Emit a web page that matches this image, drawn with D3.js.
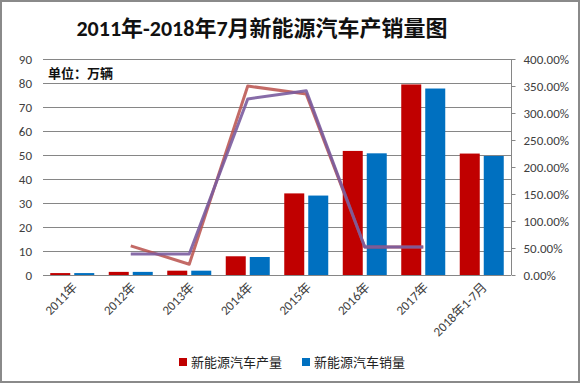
<!DOCTYPE html>
<html>
<head>
<meta charset="utf-8">
<script src="https://cdn.jsdelivr.net/npm/d3@7/dist/d3.min.js"></script>
<style>
    body { margin: 0; background: #fff; }
    text { font-family: Calibri, "Liberation Sans", "Noto Sans CJK SC", sans-serif; }
</style>
</head>
<body>
<div id="chart"></div>
<script>
(function () {
    'use strict';

    // chart data
    var years = ["2011年", "2012年", "2013年", "2014年", "2015年", "2016年", "2017年", "2018年1-7月"];
    var production = [0.8, 1.3, 1.8, 7.8, 34.0, 51.7, 79.4, 50.6];
    var sales = [0.8, 1.3, 1.8, 7.5, 33.1, 50.7, 77.7, 49.6];
    var productionGrowth = [null, 54, 20, 350, 335, 52, 52, null];
    var salesGrowth = [null, 39, 39, 326, 341, 52, 52, null];
    var leftTicks = [0, 10, 20, 30, 40, 50, 60, 70, 80, 90];
    var rightTicks = [0, 50, 100, 150, 200, 250, 300, 350, 400];

    var width = 581,
        height = 384,
        margin = {top: 59, right: 70, bottom: 109, left: 43},
        innerW = width - margin.left - margin.right,
        innerH = height - margin.top - margin.bottom,
        redColor = "#c00000",
        blueColor = "#0070c0",
        gridColor = "#868686",
        labelColor = "#404040";

    var svg = d3.select("#chart").append("svg")
        .attr("width", width)
        .attr("height", height);

    // outer frame
    svg.append("rect")
        .attr("x", 1).attr("y", 1)
        .attr("width", width - 3).attr("height", height - 3)
        .attr("fill", "#fff")
        .attr("stroke", "#8a8a8a")
        .attr("stroke-width", 2);

    svg.append("text")
        .attr("x", 262).attr("y", 36)
        .attr("text-anchor", "middle")
        .attr("font-size", 22)
        .attr("font-weight", "bold")
        .attr("fill", "#111")
        .text("2011年-2018年7月新能源汽车产销量图");

    var g = svg.append("g")
        .attr("transform", "translate(" + margin.left + "," + margin.top + ")");

    var x = d3.scaleBand().domain(years).range([0, innerW]);
    var yLeft = d3.scaleLinear().domain([0, 90]).range([innerH, 0]);
    var yRight = d3.scaleLinear().domain([0, 400]).range([innerH, 0]);

    //gridlines
    g.append("g").selectAll("line")
        .data(leftTicks)
        .enter()
        .append("line")
        .attr("x1", 0).attr("x2", innerW)
        .attr("y1", function (d) { return Math.round(yLeft(d)) + 0.5; })
        .attr("y2", function (d) { return Math.round(yLeft(d)) + 0.5; })
        .attr("stroke", gridColor)
        .attr("stroke-width", 1);

    //left axis labels
    g.append("g").selectAll("text")
        .data(leftTicks)
        .enter()
        .append("text")
        .attr("x", -11)
        .attr("y", function (d) { return yLeft(d) + 4.5; })
        .attr("text-anchor", "end")
        .attr("font-size", 13)
        .attr("fill", labelColor)
        .text(function (d) { return d; });

    //right axis
    var rightAxis = d3.axisRight(yRight)
        .tickValues(rightTicks)
        .tickSize(4)
        .tickPadding(8)
        .tickFormat(function (d) { return d3.format(".2f")(d) + "%"; });
    var ra = g.append("g")
        .attr("transform", "translate(" + (innerW + 0.5) + ",0)")
        .call(rightAxis);
    ra.select(".domain").attr("stroke", gridColor).attr("d", "M0,0V" + innerH);
    ra.selectAll(".tick line").attr("stroke", gridColor);
    ra.selectAll(".tick text")
        .attr("font-size", 13)
        .attr("fill", labelColor)
        .style("font-family", "Calibri, 'Liberation Sans', sans-serif");

    //bars
    var barW = 20, gap = 4;
    g.append("g").selectAll("rect")
        .data(production)
        .enter()
        .append("rect")
        .attr("x", function (d, i) { return x(years[i]) + x.bandwidth() / 2 - gap / 2 - barW; })
        .attr("y", function (d) { return yLeft(d); })
        .attr("width", barW)
        .attr("height", function (d) { return innerH - yLeft(d); })
        .attr("fill", redColor);

    g.append("g").selectAll("rect")
        .data(sales)
        .enter()
        .append("rect")
        .attr("x", function (d, i) { return x(years[i]) + x.bandwidth() / 2 + gap / 2; })
        .attr("y", function (d) { return yLeft(d); })
        .attr("width", barW)
        .attr("height", function (d) { return innerH - yLeft(d); })
        .attr("fill", blueColor);

    //growth lines
    var line = d3.line()
        .defined(function (d) { return d !== null; })
        .x(function (d, i) { return x(years[i]) + x.bandwidth() / 2; })
        .y(function (d) { return yRight(d); });

    g.append("path")
        .datum(productionGrowth)
        .attr("d", line)
        .attr("fill", "none")
        .attr("stroke", "#b8504b")
        .attr("stroke-width", 3)
        .attr("stroke-opacity", 0.85)
        .attr("stroke-linejoin", "round");

    g.append("path")
        .datum(salesGrowth)
        .attr("d", line)
        .attr("fill", "none")
        .attr("stroke", "#7a5c9e")
        .attr("stroke-width", 3)
        .attr("stroke-opacity", 0.9)
        .attr("stroke-linejoin", "round");

    //x labels
    g.append("g").selectAll("text")
        .data(years)
        .enter()
        .append("text")
        .attr("text-anchor", "end")
        .attr("font-size", 13)
        .attr("fill", labelColor)
        .attr("transform", function (d) {
            return "translate(" + (x(d) + x.bandwidth() / 2 + 6) + "," + (innerH + 13) + ") rotate(-45)";
        })
        .text(function (d) { return d; });

    //unit label
    svg.append("text")
        .attr("x", 48).attr("y", 78)
        .attr("font-size", 13)
        .attr("font-weight", "bold")
        .attr("fill", "#111")
        .text("单位：万辆");

    //legend
    var legend = svg.append("g");
    var items = [
        {name: "新能源汽车产量", color: redColor, x: 179},
        {name: "新能源汽车销量", color: blueColor, x: 302}
    ];
    items.forEach(function (it) {
        legend.append("rect")
            .attr("x", it.x).attr("y", 358)
            .attr("width", 8).attr("height", 8)
            .attr("fill", it.color);
        legend.append("text")
            .attr("x", it.x + 12).attr("y", 367)
            .attr("font-size", 13)
            .attr("fill", "#222")
            .text(it.name);
    });
})();
</script>
</body>
</html>
